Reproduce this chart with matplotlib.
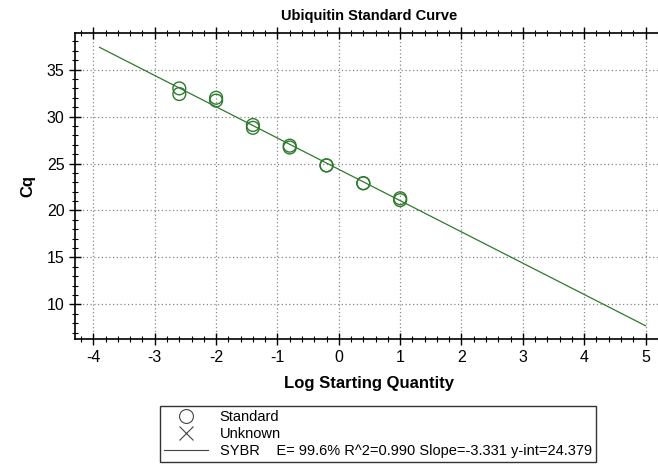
import matplotlib.pyplot as plt
from matplotlib.lines import Line2D
from matplotlib.ticker import MultipleLocator
import numpy as np

plt.rcParams['font.family'] = ['Liberation Sans', 'DejaVu Sans']
plt.rcParams['axes.unicode_minus'] = False

# standards (log starting quantity, Cq), duplicates
log_qty = [-2.6, -2.6, -2.0, -2.0, -1.4, -1.4, -0.8, -0.8, -0.2, -0.2, 0.4, 0.4, 1.0, 1.0]
cq = [33.0, 32.4, 32.0, 31.7, 29.1, 28.8, 26.9, 26.7, 24.8, 24.8, 22.9, 22.9, 21.3, 21.1]

slope = -3.331
y_int = 24.379
fit_x = [-3.9, 5.0]

green = '#2d7a2d'

fig = plt.figure(figsize=(6.58, 4.71), dpi=100)
ax = fig.add_axes([0.114, 0.28, 0.895, 0.65])

fx = np.array(fit_x)
ax.plot(fx, slope * fx + y_int, color=green, lw=0.9)
ax.scatter(log_qty, cq, s=85, facecolors='none', edgecolors=green, linewidths=1.0, zorder=3)

ax.set_xlim(-4.3, 5.3)
ax.set_ylim(6.3, 38.9)
ax.xaxis.set_major_locator(MultipleLocator(1))
ax.xaxis.set_minor_locator(MultipleLocator(0.2))
ax.yaxis.set_major_locator(MultipleLocator(5))
ax.yaxis.set_minor_locator(MultipleLocator(1))
ax.tick_params(which='major', direction='inout', length=8, width=1, top=True, labelsize=11.5)
ax.tick_params(which='minor', direction='inout', length=4, width=0.8, top=True)
ax.grid(True, which='major', linestyle=(0, (1, 2)), color='#888888', lw=0.9)
for s in ax.spines.values():
    s.set_linewidth(1.2)

ax.set_title('Ubiquitin Standard Curve', fontsize=10.5, fontweight='bold', pad=9)
ax.set_xlabel('Log Starting Quantity', fontsize=12, fontweight='bold', labelpad=8)
ax.set_ylabel('Cq', fontsize=12, fontweight='bold', labelpad=8)

handles = [
    Line2D([], [], marker='o', ls='none', mfc='none', mec='#444444', ms=10, mew=0.8),
    Line2D([], [], marker='x', ls='none', color='#444444', ms=10, mew=0.8),
    Line2D([], [], color='#444444', lw=0.8),
]
labels = ['Standard', 'Unknown', 'SYBR    E= 99.6% R^2=0.990 Slope=-3.331 y-int=24.379']
leg = fig.legend(handles, labels, loc='lower left', bbox_to_anchor=(0.232, 0.003),
                 fontsize=10.5, frameon=True, fancybox=False, edgecolor='black',
                 borderpad=0.3, labelspacing=0.2, handlelength=3, handletextpad=0.8)
leg.get_frame().set_linewidth(1.0)

fig.savefig('out.png', dpi=100)
